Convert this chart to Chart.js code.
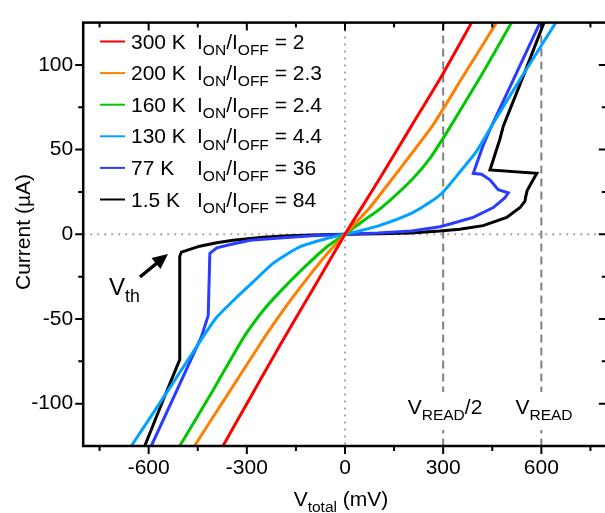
<!DOCTYPE html>
<html>
<head>
<meta charset="utf-8">
<script src="https://cdn.jsdelivr.net/npm/chart.js@4/dist/chart.umd.min.js"></script>
<style>
html, body { margin: 0; padding: 0; overflow: hidden; background: #fff; }
canvas { display: block; }
</style>
</head>
<body>
<canvas id="ivChart" width="612" height="513"></canvas>
<script>
// I-V sweeps. V in mV, I in uA
const v300 = [-373, -300, -200, -100, 0, 100, 200, 300, 387];
const i300 = [-125, -100, -66, -33, 0, 31, 63, 95, 125];

const v200 = [-460, -350, -245, -178, -107, -50, 0, 76, 142, 267, 360, 463];
const i200 = [-125, -92, -60.6, -42, -24, -10.5, 0, 15.8, 32.2, 64, 93, 125];

const v160 = [-505, -400, -310, -250, -199, -127, -56, 0, 56, 112, 204, 260, 320, 420, 509];
const i160 = [-125, -91, -61, -45, -34, -20, -7.5, 0, 8, 15.8, 32.2, 45, 63, 95, 125];

const v130 = [-653, -540, -434, -392, -330, -280, -219, -137, -56, 0, 102, 204, 265, 300, 356, 400, 448, 540, 644];
const i130 = [-125, -92, -60.6, -49, -37, -28, -17, -7.3, -2.5, 0, 5, 12.5, 19.6, 25, 38, 48.5, 64, 93, 125];

const v77 = [-592, -510, -439, -418, -413, -392, -350, -290, -200, -100, 0, 100, 204, 290, 321, 392, 453, 489, 499, 468, 443, 417, 392, 422, 448, 520, 596];
const i77 = [-125, -90.5, -60.6, -48, -11.3, -8, -6, -3.5, -2.2, -0.8, 0, 0.7, 1.9, 4.5, 6.1, 10, 15.8, 21.6, 24.5, 26.4, 32.2, 35.5, 36, 52.5, 64, 93.5, 125];

const v15 = [-612, -556, -505, -505, -500, -444, -392, -342, -250, -189, -100, 0, 100, 200, 290, 350, 422, 494, 535, 550, 552, 557, 586, 443, 473, 484, 546, 608];
const i15 = [-125, -98, -74, -13, -10.5, -7, -5, -3.5, -1.8, -1, -0.4, 0, 0.3, 0.8, 1.9, 3, 5.1, 10, 15.8, 19.6, 22, 26, 36, 38, 56, 64, 94, 125];

const temps = ['300 K', '200 K', '160 K', '130 K', '77 K', '1.5 K'];
const ratios = ['2', '2.3', '2.4', '4.4', '36', '84'];
const colors = ['#ff0000', '#ff8000', '#00c800', '#00a2ff', '#2a3cff', '#000000'];

const xTicks = [-600, -300, 0, 300, 600];
const xMinor = [-750, -450, -150, 150, 450, 750];
const yTicks = [-100, -50, 0, 50, 100];
const yMinor = [-75, -25, 25, 75];
const vRead = [300, 600];

const FONT = '"Liberation Sans", Arial, sans-serif';

function pts(vs, is) {
    return vs.map((v, k) => ({ x: v, y: is[k] }));
}

const curves = [
    [v300, i300, 0.2], [v200, i200, 0.2], [v160, i160, 0.2],
    [v130, i130, 0.2], [v77, i77, 0], [v15, i15, 0]
];

const datasets = curves.map((c, k) => ({
    label: temps[k],
    data: pts(c[0], c[1]),
    showLine: true,
    borderColor: colors[k],
    borderWidth: 3,
    pointRadius: 0,
    tension: c[2],
    fill: false
}));

// text with subscripts: parts = [[text, isSub], ...]
function richText(ctx, parts, x, y, size, align) {
    const subSize = size * 0.74;
    const widths = parts.map(([t, sub]) => {
        ctx.font = (sub ? subSize : size) + 'px ' + FONT;
        return ctx.measureText(t).width;
    });
    const total = widths.reduce((a, b) => a + b, 0);
    let cx = align === 'center' ? x - total / 2 : (align === 'right' ? x - total : x);
    ctx.textAlign = 'left';
    ctx.textBaseline = 'alphabetic';
    parts.forEach(([t, sub], k) => {
        ctx.font = (sub ? subSize : size) + 'px ' + FONT;
        ctx.fillText(t, cx, sub ? y + size * 0.3 : y);
        cx += widths[k];
    });
    return total;
}

const decor = {
    id: 'decor',
    beforeDatasetsDraw(chart) {
        const { ctx, chartArea: a, scales: { x, y } } = chart;
        ctx.save();
        // zero lines
        ctx.strokeStyle = '#a8a8a8';
        ctx.lineWidth = 2;
        ctx.setLineDash([2, 5]);
        ctx.beginPath();
        ctx.moveTo(x.getPixelForValue(0), a.top);
        ctx.lineTo(x.getPixelForValue(0), a.bottom);
        ctx.moveTo(a.left, y.getPixelForValue(0));
        ctx.lineTo(a.right, y.getPixelForValue(0));
        ctx.stroke();
        // read voltage lines
        ctx.strokeStyle = '#808080';
        ctx.setLineDash([8, 5]);
        ctx.beginPath();
        vRead.forEach(v => {
            const px = x.getPixelForValue(v);
            ctx.moveTo(px, a.top);
            ctx.lineTo(px, a.bottom);
        });
        ctx.stroke();
        ctx.restore();
    },
    afterDatasetsDraw(chart) {
        const { ctx, chartArea: a, scales: { x, y } } = chart;
        ctx.save();
        ctx.fillStyle = '#000';
        ctx.strokeStyle = '#000';

        // frame
        ctx.lineWidth = 2.5;
        ctx.strokeRect(a.left, a.top, a.right - a.left, a.bottom - a.top);

        // ticks: out on bottom/left, in on top/right
        ctx.lineWidth = 2;
        ctx.beginPath();
        const xt = (vals, len) => vals.forEach(v => {
            const px = x.getPixelForValue(v);
            ctx.moveTo(px, a.bottom); ctx.lineTo(px, a.bottom + len);
            ctx.moveTo(px, a.top); ctx.lineTo(px, a.top + len);
        });
        const yt = (vals, len) => vals.forEach(v => {
            const py = y.getPixelForValue(v);
            ctx.moveTo(a.left, py); ctx.lineTo(a.left - len, py);
            ctx.moveTo(a.right, py); ctx.lineTo(a.right - len, py);
        });
        xt(xTicks, 8); xt(xMinor, 5);
        yt(yTicks, 8); yt(yMinor, 5);
        ctx.stroke();

        // V_READ labels on white
        const lbls = [
            [[['V', false], ['READ', true], ['/2', false]], 445],
            [[['V', false], ['READ', true]], 544]
        ];
        lbls.forEach(([parts, cx]) => {
            ctx.font = '21px ' + FONT;
            let w = 0;
            parts.forEach(([t, sub]) => {
                ctx.font = (sub ? 21 * 0.74 : 21) + 'px ' + FONT;
                w += ctx.measureText(t).width;
            });
            ctx.fillStyle = '#fff';
            ctx.fillRect(cx - w / 2 - 2, 392, w + 4, 38);
            ctx.fillStyle = '#000';
            richText(ctx, parts, cx, 414, 21, 'center');
        });

        // legend
        temps.forEach((t, k) => {
            const base = 48.5 + k * 31.6;
            ctx.strokeStyle = colors[k];
            ctx.lineWidth = 2;
            ctx.beginPath();
            ctx.moveTo(100, base - 7);
            ctx.lineTo(125, base - 7);
            ctx.stroke();
            ctx.fillStyle = '#000';
            richText(ctx, [[t, false]], 131, base, 21, 'left');
            richText(ctx, [['I', false], ['ON', true], ['/I', false], ['OFF', true], [' = ' + ratios[k], false]], 197, base, 21, 'left');
        });

        // V_th arrow and label
        ctx.strokeStyle = '#000';
        ctx.lineWidth = 3.5;
        ctx.beginPath();
        ctx.moveTo(140, 277);
        ctx.lineTo(157, 263);
        ctx.stroke();
        ctx.beginPath();
        ctx.moveTo(168, 254);
        ctx.lineTo(160.5, 269);
        ctx.lineTo(151.5, 258);
        ctx.closePath();
        ctx.fill();
        richText(ctx, [['V', false], ['th', true]], 109, 295, 24, 'left');

        // axis titles
        richText(ctx, [['V', false], ['total', true], [' (mV)', false]], 341, 506, 21, 'center');
        ctx.translate(30, 232);
        ctx.rotate(-Math.PI / 2);
        ctx.font = '21px ' + FONT;
        ctx.textAlign = 'center';
        ctx.textBaseline = 'alphabetic';
        ctx.fillText('Current (\u00b5A)', 0, 0);
        ctx.restore();
    }
};

new Chart(document.getElementById('ivChart'), {
    type: 'scatter',
    data: { datasets },
    options: {
        responsive: false,
        animation: false,
        devicePixelRatio: 1,
        layout: { padding: { top: 15, right: 5.2, left: 0, bottom: 0 } },
        plugins: { legend: { display: false }, tooltip: { enabled: false } },
        scales: {
            x: {
                type: 'linear', min: -800, max: 800,
                afterBuildTicks: s => { s.ticks = xTicks.map(v => ({ value: v })); },
                afterFit: s => { s.height = 67; },
                grid: { display: false, drawTicks: false },
                border: { display: false },
                ticks: { font: { family: FONT, size: 21 }, color: '#000', padding: 9.5, maxRotation: 0, autoSkip: false }
            },
            y: {
                type: 'linear', min: -125, max: 125,
                afterBuildTicks: s => { s.ticks = yTicks.map(v => ({ value: v })); },
                afterFit: s => { s.width = 83.2; },
                grid: { display: false, drawTicks: false },
                border: { display: false },
                ticks: { font: { family: FONT, size: 21 }, color: '#000', padding: 10, autoSkip: false }
            }
        }
    },
    plugins: [decor]
});
</script>
</body>
</html>
